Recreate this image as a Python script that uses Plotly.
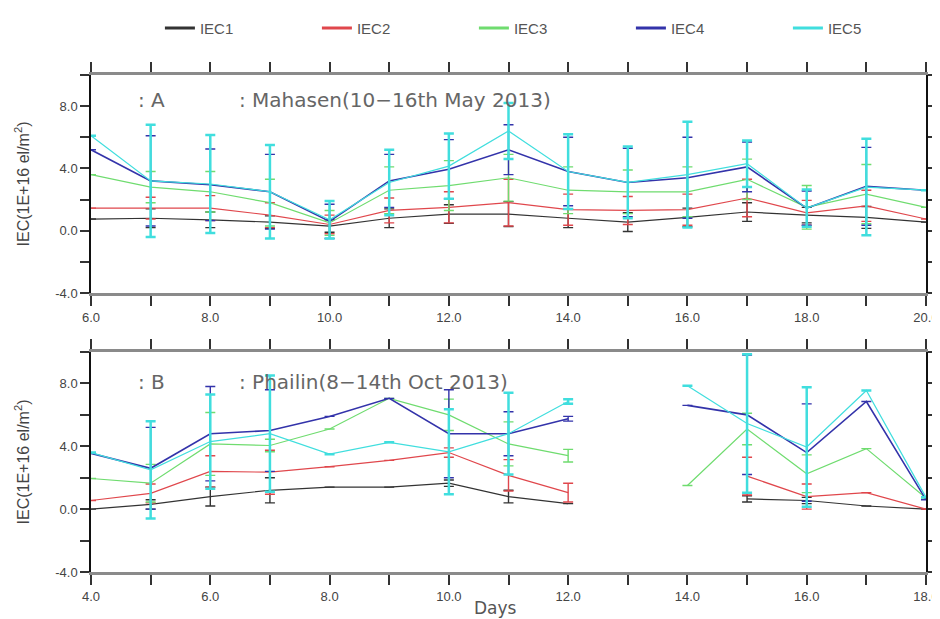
import plotly.graph_objects as go

# ---------------- data ----------------
series_names = ["IEC1", "IEC2", "IEC3", "IEC4", "IEC5"]
series_colors = ["#333333", "#e0474c", "#6fdc6f", "#3333aa", "#40dede"]

# Panel A : Mahasen (days 6..20)
days_a = [6, 7, 8, 9, 10, 11, 12, 13, 14, 15, 16, 17, 18, 19, 20]
iec1_a = [0.75, 0.8, 0.7, 0.55, 0.3, 0.8, 1.07, 1.07, 0.8, 0.55, 0.85, 1.2, 1.0, 0.85, 0.55]
iec2_a = [1.45, 1.45, 1.45, 1.0, 0.4, 1.3, 1.5, 1.8, 1.35, 1.3, 1.35, 2.1, 1.15, 1.6, 0.75]
iec3_a = [3.6, 2.8, 2.5, 1.8, 0.5, 2.6, 2.9, 3.4, 2.6, 2.5, 2.5, 3.3, 1.5, 2.35, 1.5]
iec4_a = [5.2, 3.2, 2.95, 2.5, 0.6, 3.2, 3.95, 5.2, 3.8, 3.1, 3.4, 4.1, 1.45, 2.85, 2.6]
iec5_a = [6.1, 3.2, 3.0, 2.5, 0.7, 3.1, 4.15, 6.4, 3.8, 3.1, 3.6, 4.3, 1.45, 2.8, 2.6]
err1_a = [None, 0.6, 0.5, 0.4, 0.4, 0.6, 0.6, 0.8, 0.6, 0.6, 0.6, 0.6, 0.5, 0.7, None]
err2_a = [None, 0.7, 0.8, 0.8, 0.6, 0.8, 1.0, 1.5, 1.0, 0.9, 1.0, 1.2, 0.8, 1.0, None]
err3_a = [None, 1.0, 1.3, 1.5, 0.8, 1.5, 1.6, 1.5, 1.5, 1.4, 1.6, 1.3, 1.4, 1.9, None]
err4_a = [None, 2.9, 2.3, 2.4, 1.1, 1.7, 1.9, 1.6, 2.2, 2.2, 2.6, 1.6, 1.1, 2.5, None]
err5_a = [None, 3.6, 3.15, 3.0, 1.2, 2.1, 2.1, 1.8, 2.4, 2.3, 3.4, 1.5, 1.2, 3.1, None]

# Panel B : Phailin (days 4..18)
days_b = [4, 5, 6, 7, 8, 9, 10, 11, 12, 13, 14, 15, 16, 17, 18]
iec1_b = [0.0, 0.3, 0.8, 1.2, 1.4, 1.4, 1.65, 0.8, 0.35, None, None, 0.65, 0.55, 0.2, 0.0]
iec2_b = [0.55, 1.0, 2.4, 2.35, 2.7, 3.1, 3.6, 2.15, 1.05, None, None, 2.1, 0.8, 1.05, 0.0]
iec3_b = [1.95, 1.65, 4.15, 4.05, 5.1, 7.05, 6.0, 4.15, 3.4, None, 1.5, 5.1, 2.25, 3.85, 0.7]
iec4_b = [3.55, 2.6, 4.8, 5.0, 5.9, 7.05, 4.8, 4.8, 5.75, None, 6.6, 6.0, 3.6, 6.85, 0.6]
iec5_b = [3.6, 2.5, 4.3, 4.8, 3.5, 4.25, 3.65, 4.8, 6.85, None, 7.85, 5.45, 3.95, 7.55, 0.75]
err1_b = [None, 0.3, 0.6, 0.8, None, None, 0.2, 0.4, None, None, None, 0.2, 0.2, None, None]
err2_b = [None, 0.6, 1.0, 1.4, None, None, 0.3, 1.0, 0.6, None, None, 1.2, 0.8, None, None]
err3_b = [None, 1.2, 2.0, 0.4, None, None, 1.0, 1.4, 0.4, None, None, 1.0, 1.2, None, None]
err4_b = [None, 2.6, 3.0, 2.6, None, None, 2.8, 1.4, 0.15, None, None, 3.8, 3.1, None, None]
err5_b = [None, 3.1, 3.0, 3.7, None, None, 2.7, 2.6, 0.15, None, None, 4.4, 3.8, None, None]

title_a = ": Mahasen(10\u221216th May 2013)"
title_b = ": Phailin(8\u221214th Oct 2013)"
label_a = ": A"
label_b = ": B"
ytitle = "IEC(1E+16 el/m<sup>2</sup>)"
xtitle = "Days"

# ---------------- figure ----------------
fig = go.Figure()
vals_a = [iec1_a, iec2_a, iec3_a, iec4_a, iec5_a]
errs_a = [err1_a, err2_a, err3_a, err4_a, err5_a]
vals_b = [iec1_b, iec2_b, iec3_b, iec4_b, iec5_b]
errs_b = [err1_b, err2_b, err3_b, err4_b, err5_b]

for i, name in enumerate(series_names):
    c = series_colors[i]
    lw = 1.6 if name == "IEC4" else 1.2
    ew = 2.5 if name == "IEC5" else 1.4
    fig.add_trace(go.Scatter(
        x=days_a, y=vals_a[i], name=name, mode="lines", showlegend=False,
        line=dict(color=c, width=lw), legendgroup=name,
        error_y=dict(type="data", array=errs_a[i], visible=True,
                     color=c, thickness=ew, width=5),
        xaxis="x", yaxis="y", connectgaps=False))
    fig.add_trace(go.Scatter(
        x=days_b, y=vals_b[i], name=name, mode="lines", showlegend=False,
        line=dict(color=c, width=lw), legendgroup=name,
        error_y=dict(type="data", array=errs_b[i], visible=True,
                     color=c, thickness=ew, width=5),
        xaxis="x2", yaxis="y2", connectgaps=False))

# legend-only entries with thicker sample lines
for i, name in enumerate(series_names):
    fig.add_trace(go.Scatter(
        x=[None], y=[None], name=name, mode="lines", legendgroup=name,
        line=dict(color=series_colors[i], width=3), xaxis="x", yaxis="y",
        showlegend=True))

font_family = "Liberation Sans, Arial, sans-serif"
tick_font = dict(family=font_family, size=13, color="#444")

def xaxis_cfg(lo, hi, domain_anchor):
    vals = list(range(lo, hi + 1))
    txt = [f"{v:.1f}" if v % 2 == 0 else "" for v in vals]
    return dict(range=[lo, hi], tickvals=vals, ticktext=txt, ticks="outside",
                ticklen=10, tickwidth=1.5, tickcolor="#333",
                showline=True, linecolor="#8a8a8a", linewidth=3, mirror="ticks",
                showgrid=False, zeroline=False, tickfont=tick_font,
                anchor=domain_anchor, automargin=False)

yvals = [-4, -2, 0, 2, 4, 6, 8, 10]
ytxt = [f"{v:.1f}" if v % 4 == 0 and v < 10 else "" for v in yvals]

def yaxis_cfg(domain, anchor):
    return dict(range=[-4, 10], domain=domain, tickvals=yvals, ticktext=ytxt,
                ticks="outside", ticklen=9, tickwidth=1.5, tickcolor="#333",
                showline=True, linecolor="#111", linewidth=1.5, mirror="ticks",
                showgrid=False, zeroline=False, tickfont=tick_font,
                anchor=anchor, automargin=False,
                title=dict(text=ytitle, font=dict(family=font_family, size=16, color="#444"),
                           standoff=22))

xa = xaxis_cfg(6, 20, "y")
xb = xaxis_cfg(4, 18, "y2")

# the page body adds an 8 px offset, so the figure is sized to fit the window
fig.update_layout(
    width=932, height=611,
    margin=dict(l=83, r=14, t=67, b=47, autoexpand=False),
    paper_bgcolor="white", plot_bgcolor="white",
    xaxis=xa, xaxis2=xb,
    yaxis=yaxis_cfg([0.5614, 1.0], "x"),
    yaxis2=yaxis_cfg([0.0, 0.4427], "x2"),
    showlegend=True,
    legend=dict(orientation="h", xref="container", yref="container",
                x=0.163, y=0.967, xanchor="left", yanchor="middle",
                font=dict(family=font_family, size=15, color="#555"),
                entrywidth=112, itemwidth=30, bgcolor="rgba(0,0,0,0)"),
)

ann_font = dict(family="DejaVu Sans, sans-serif", size=20, color="#666")
fig.add_annotation(x=6.75, y=8.4, xref="x", yref="y", text=label_a, showarrow=False,
                   xanchor="left", yanchor="middle", font=ann_font)
fig.add_annotation(x=8.45, y=8.4, xref="x", yref="y", text=title_a, showarrow=False,
                   xanchor="left", yanchor="middle", font=ann_font)
fig.add_annotation(x=4.75, y=8.1, xref="x2", yref="y2", text=label_b, showarrow=False,
                   xanchor="left", yanchor="middle", font=ann_font)
fig.add_annotation(x=6.45, y=8.1, xref="x2", yref="y2", text=title_b, showarrow=False,
                   xanchor="left", yanchor="middle", font=ann_font)
fig.add_annotation(x=0.484, y=-0.072, xref="paper", yref="paper", text=xtitle,
                   showarrow=False, xanchor="center", yanchor="middle",
                   font=dict(family="DejaVu Sans, sans-serif", size=17, color="#555"))

fig.write_html("out.html")
